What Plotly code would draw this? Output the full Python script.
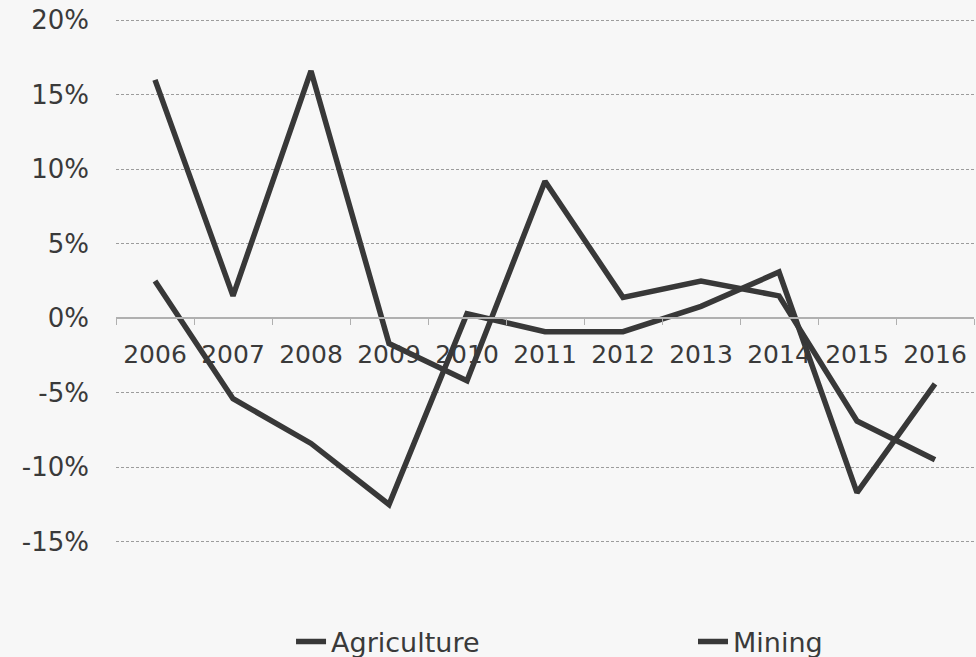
import plotly.graph_objects as go

# Annual growth rates by sector
years = ["2006", "2007", "2008", "2009", "2010", "2011",
         "2012", "2013", "2014", "2015", "2016"]
agriculture = [2.5, -5.4, -8.4, -12.5, 0.3, -0.9, -0.9, 0.8, 3.1, -11.7, -4.4]
mining = [16.0, 1.5, 16.6, -1.7, -4.2, 9.2, 1.4, 2.5, 1.5, -6.9, -9.5]

y_ticks = [-0.15, -0.10, -0.05, 0.0, 0.05, 0.10, 0.15, 0.20]
y_tick_labels = ["-15%", "-10%", "-5%", "0%", "5%", "10%", "15%", "20%"]

# small padding so the outermost gridlines are still drawn
y_min, y_max = -0.1515, 0.2015
line_color = "#383838"
text_color = "#3a3a3a"
font_family = "DejaVu Sans, Verdana, sans-serif"

fig = go.Figure()
series = [("Agriculture", agriculture, "legend"), ("Mining", mining, "legend2")]
for name, values, legend_id in series:
    fig.add_trace(go.Scatter(
        x=years,
        y=[v / 100 for v in values],
        name=name,
        mode="lines",
        line=dict(color=line_color, width=5.5),
        legend=legend_id,
    ))

legend_common = dict(
    orientation="h",
    xanchor="left",
    yref="container",
    y=1 - 642 / 657,
    yanchor="middle",
    font=dict(size=27, color=text_color),
    bgcolor="rgba(0,0,0,0)",
)

fig.update_layout(
    width=976,
    height=657,
    margin=dict(l=116, r=2, t=18, b=113),
    paper_bgcolor="#f7f7f7",
    plot_bgcolor="#f7f7f7",
    font=dict(family=font_family, size=25, color=text_color),
    showlegend=True,
    legend=dict(x=0.204, **legend_common),
    legend2=dict(x=0.6725, **legend_common),
)

# Category axis crossing the value axis at zero
fig.update_xaxes(
    type="category",
    range=[-0.5, 10.5],
    anchor="free",
    position=(0 - y_min) / (y_max - y_min),
    showline=True,
    linecolor="#b0b0b0",
    linewidth=1.5,
    showgrid=False,
    ticks="outside",
    tickson="boundaries",
    ticklen=6,
    tickcolor="#b0b0b0",
    ticklabelstandoff=14,
    tickfont=dict(size=25, color=text_color),
)

fig.update_yaxes(
    range=[y_min, y_max],
    tickmode="array",
    tickvals=y_ticks,
    ticktext=y_tick_labels,
    showgrid=True,
    gridcolor="#9c9c9c",
    gridwidth=1,
    griddash="3px,2px",
    zeroline=False,
    showline=False,
    ticklabelstandoff=26,
    tickfont=dict(size=26, color=text_color),
)

fig.write_html("out.html")
